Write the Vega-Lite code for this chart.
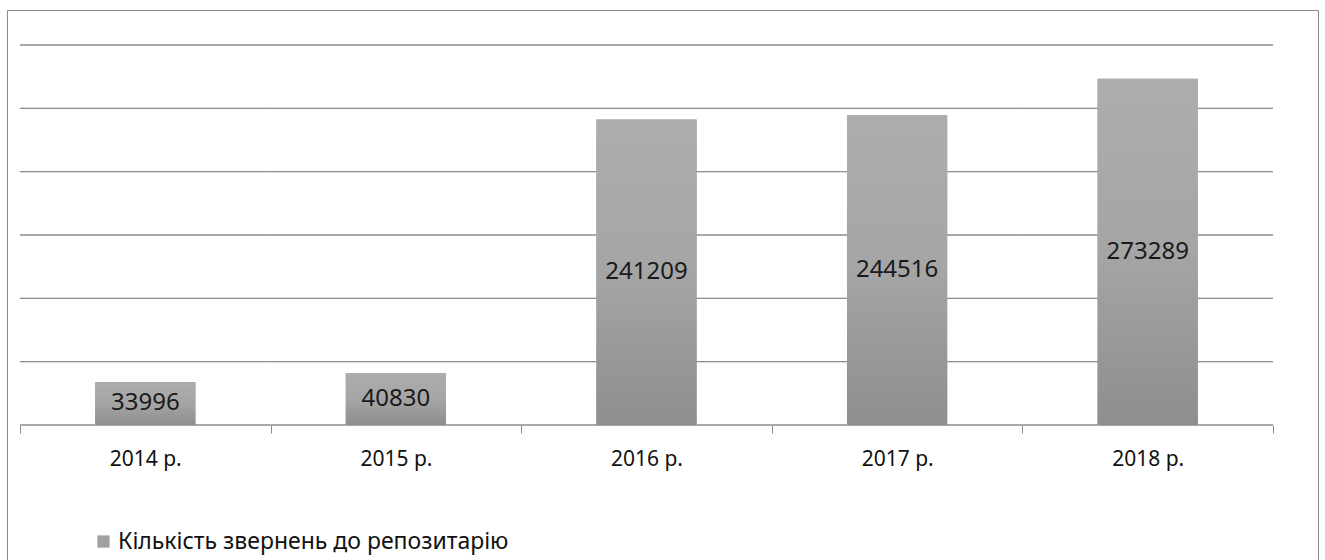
{
  "$schema": "https://vega.github.io/schema/vega-lite/v6.json",
  "autosize": {"type": "none"},
  "padding": {"left": 7, "top": 10, "right": 7, "bottom": 0},
  "width": 1311,
  "height": 550,
  "background": "white",
  "config": {
    "view": {"stroke": "#8a8a8a", "strokeWidth": 1},
    "font": "Noto Sans"
  },
  "datasets": {
    "main": [
      {"year": "2014 р.", "value": 33996},
      {"year": "2015 р.", "value": 40830},
      {"year": "2016 р.", "value": 241209},
      {"year": "2017 р.", "value": 244516},
      {"year": "2018 р.", "value": 273289}
    ],
    "grid": [
      {"g": 0, "yr": ["2014 р.", "2015 р.", "2016 р.", "2017 р.", "2018 р."]},
      {"g": 50000, "yr": ["2014 р.", "2015 р.", "2016 р.", "2017 р.", "2018 р."]},
      {"g": 100000, "yr": ["2014 р.", "2015 р.", "2016 р.", "2017 р.", "2018 р."]},
      {"g": 150000, "yr": ["2014 р.", "2015 р.", "2016 р.", "2017 р.", "2018 р."]},
      {"g": 200000, "yr": ["2014 р.", "2015 р.", "2016 р.", "2017 р.", "2018 р."]},
      {"g": 250000, "yr": ["2014 р.", "2015 р.", "2016 р.", "2017 р.", "2018 р."]},
      {"g": 300000, "yr": ["2014 р.", "2015 р.", "2016 р.", "2017 р.", "2018 р."]}
    ]
  },
  "layer": [
    {
      "data": {"name": "grid"},
      "transform": [{"flatten": ["yr"]}],
      "mark": {"type": "rect", "fill": null, "stroke": "#8c8c8c", "strokeWidth": 1},
      "encoding": {
        "x": {
          "field": "yr", "type": "nominal", "sort": null,
          "scale": {
            "domain": ["2014 р.", "2015 р.", "2016 р.", "2017 р.", "2018 р."],
            "paddingInner": 0, "paddingOuter": 0.1157, "align": 0.224
          },
          "axis": {
            "orient": "bottom", "offset": -135, "domain": false, "grid": false,
            "tickBand": "extent", "tickColor": "#8c8c8c", "tickSize": 8, "tickWidth": 1,
            "labelPadding": 15, "labelFont": "Noto Sans", "labelFontSize": 21,
            "labelColor": "#111111", "labelAngle": 0, "title": null
          }
        },
        "y": {
          "field": "g", "type": "quantitative",
          "scale": {"domain": [-106579, 327632], "nice": false, "zero": false},
          "axis": null
        },
        "y2": {"field": "g"}
      }
    },
    {
      "data": {"name": "main"},
      "mark": {"type": "bar", "width": {"band": 0.4}},
      "encoding": {
        "x": {"field": "year", "type": "nominal", "sort": null},
        "y": {"field": "value", "type": "quantitative"},
        "y2": {"datum": 0},
        "color": {
          "datum": "Кількість звернень до репозитарію", "type": "nominal",
          "scale": {"range": ["#a0a0a0"]},
          "legend": {
            "orient": "none", "legendX": 85, "legendY": 520, "title": null,
            "padding": 0, "symbolType": "square", "symbolSize": 150,
            "symbolStrokeWidth": 0,
            "labelFont": "Noto Sans", "labelFontSize": 23, "labelColor": "#111111",
            "labelOffset": 3, "labelLimit": 600
          }
        }
      }
    },
    {
      "data": {"name": "main"},
      "mark": {
        "type": "bar", "width": {"band": 0.4},
        "fill": {
          "gradient": "linear", "x1": 0, "y1": 0, "x2": 0, "y2": 1,
          "stops": [
            {"offset": 0, "color": "#adadad"},
            {"offset": 0.5, "color": "#a5a5a5"},
            {"offset": 1, "color": "#8e8e8e"}
          ]
        }
      },
      "encoding": {
        "x": {"field": "year", "type": "nominal", "sort": null},
        "y": {"field": "value", "type": "quantitative"},
        "y2": {"datum": 0}
      }
    },
    {
      "data": {"name": "main"},
      "transform": [{"calculate": "datum.value / 2", "as": "mid"}],
      "mark": {"type": "text", "font": "Noto Sans", "fontSize": 24, "color": "#1a1a1a", "baseline": "middle"},
      "encoding": {
        "x": {"field": "year", "type": "nominal", "sort": null},
        "y": {"field": "mid", "type": "quantitative"},
        "text": {"field": "value", "type": "quantitative", "format": "d"}
      }
    }
  ]
}
